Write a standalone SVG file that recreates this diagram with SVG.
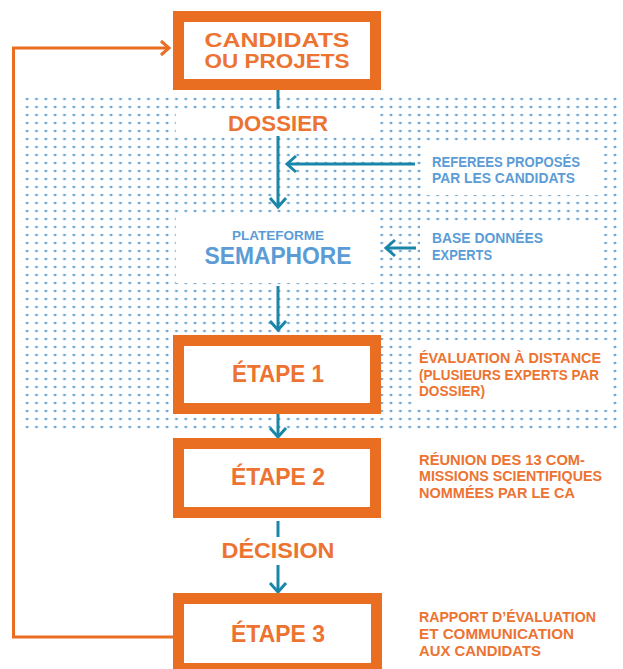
<svg xmlns="http://www.w3.org/2000/svg" width="623" height="669" viewBox="0 0 623 669">
<style>
.box{fill:#fff;stroke:#EA6E22;stroke-width:11}
.t{font-family:"Liberation Sans",Arial,sans-serif;font-weight:bold;fill:#EC7331;text-anchor:middle}
.o{font-family:"Liberation Sans",Arial,sans-serif;font-weight:bold;fill:#EC7331;font-size:14px}
.b{font-family:"Liberation Sans",Arial,sans-serif;font-weight:bold;fill:#5B9CD6;font-size:14px}
.con{fill:none;stroke:#1A86A9;stroke-width:3}
.loop{fill:none;stroke:#EA6E22;stroke-width:3}
</style>
<defs>
<pattern id="dots" patternUnits="userSpaceOnUse" x="22.5" y="95" width="9.33" height="8">
<ellipse cx="4.67" cy="4" rx="1.5" ry="1.3" fill="#6DA7D3"/>
</pattern>
<marker id="ah" markerUnits="userSpaceOnUse" markerWidth="24" markerHeight="24" refX="12" refY="12" orient="auto" overflow="visible">
<path d="M3,4 L12,12 L3,20" fill="none" stroke="#1A86A9" stroke-width="3"/>
</marker>
<marker id="oh" markerUnits="userSpaceOnUse" markerWidth="24" markerHeight="24" refX="12" refY="12" orient="auto" overflow="visible">
<path d="M4,5 L12,12 L4,19" fill="none" stroke="#EA6E22" stroke-width="3"/>
</marker>
</defs>

<g id="background">
<rect x="22" y="95" width="598" height="338" fill="url(#dots)"/>
<rect x="176" y="109" width="204" height="27" fill="#fff"/>
<rect x="422" y="143" width="180" height="52" fill="#fff"/>
<rect x="176" y="215" width="204" height="68" fill="#fff"/>
<rect x="420" y="224" width="183" height="48" fill="#fff"/>
<rect x="417" y="340" width="196" height="67" fill="#fff"/>
</g>

<g id="connectors">
<path class="loop" d="M173,637 H13.5 V48 H169" marker-end="url(#oh)"/>
<path class="con" d="M278,90 V109"/>
<path class="con" d="M278,136 V207" marker-end="url(#ah)"/>
<path class="con" d="M415,164 H287" marker-end="url(#ah)"/>
<path class="con" d="M416,248 H386" marker-end="url(#ah)"/>
<path class="con" d="M278,286 V330" marker-end="url(#ah)"/>
<path class="con" d="M278,414 V437" marker-end="url(#ah)"/>
<path class="con" d="M278,521 V537"/>
<path class="con" d="M278,565 V592" marker-end="url(#ah)"/>
</g>

<g id="candidats">
<rect class="box" x="178.5" y="16.5" width="197" height="68"/>
<text class="t" x="277" y="47" font-size="21" textLength="145" lengthAdjust="spacingAndGlyphs">CANDIDATS</text>
<text class="t" x="277" y="68" font-size="21" textLength="145" lengthAdjust="spacingAndGlyphs">OU PROJETS</text>
</g>

<g id="dossier">
<text class="t" x="278" y="131" font-size="22" textLength="100" lengthAdjust="spacingAndGlyphs">DOSSIER</text>
</g>

<g id="referees">
<text class="b" x="432" y="167" textLength="148" lengthAdjust="spacingAndGlyphs">REFEREES PROPOSÉS</text>
<text class="b" x="432" y="183" textLength="143" lengthAdjust="spacingAndGlyphs">PAR LES CANDIDATS</text>
</g>

<g id="semaphore">
<text class="t" x="278" y="240" font-size="13" style="fill:#5B9CD6" textLength="92" lengthAdjust="spacingAndGlyphs">PLATEFORME</text>
<text class="t" x="278" y="264" font-size="23" style="fill:#5B9CD6" textLength="147" lengthAdjust="spacingAndGlyphs">SEMAPHORE</text>
</g>

<g id="base">
<text class="b" x="432" y="243" textLength="111" lengthAdjust="spacingAndGlyphs">BASE DONNÉES</text>
<text class="b" x="432" y="260" textLength="60" lengthAdjust="spacingAndGlyphs">EXPERTS</text>
</g>

<g id="etape1">
<rect class="box" x="178.5" y="340.5" width="197" height="68"/>
<text class="t" x="278" y="382" font-size="23" textLength="92" lengthAdjust="spacingAndGlyphs">ÉTAPE 1</text>
<text class="o" x="419" y="363" textLength="182" lengthAdjust="spacingAndGlyphs">ÉVALUATION À DISTANCE</text>
<text class="o" x="419" y="380" textLength="180" lengthAdjust="spacingAndGlyphs">(PLUSIEURS EXPERTS PAR</text>
<text class="o" x="419" y="396" textLength="66" lengthAdjust="spacingAndGlyphs">DOSSIER)</text>
</g>

<g id="etape2">
<rect class="box" x="178.5" y="443.5" width="197" height="69"/>
<text class="t" x="278" y="485" font-size="23" textLength="94" lengthAdjust="spacingAndGlyphs">ÉTAPE 2</text>
<text class="o" x="419" y="465" textLength="166" lengthAdjust="spacingAndGlyphs">RÉUNION DES 13 COM-</text>
<text class="o" x="419" y="481" textLength="183" lengthAdjust="spacingAndGlyphs">MISSIONS SCIENTIFIQUES</text>
<text class="o" x="419" y="498" textLength="156" lengthAdjust="spacingAndGlyphs">NOMMÉES PAR LE CA</text>
</g>

<g id="decision">
<text class="t" x="278" y="558" font-size="22" textLength="113" lengthAdjust="spacingAndGlyphs">DÉCISION</text>
</g>

<g id="etape3">
<rect class="box" x="178.5" y="598.5" width="198" height="70"/>
<text class="t" x="278" y="642" font-size="23" textLength="94" lengthAdjust="spacingAndGlyphs">ÉTAPE 3</text>
<text class="o" x="419" y="622" textLength="177" lengthAdjust="spacingAndGlyphs">RAPPORT D’ÉVALUATION</text>
<text class="o" x="419" y="639" textLength="155" lengthAdjust="spacingAndGlyphs">ET COMMUNICATION</text>
<text class="o" x="419" y="656" textLength="122" lengthAdjust="spacingAndGlyphs">AUX CANDIDATS</text>
</g>
</svg>
